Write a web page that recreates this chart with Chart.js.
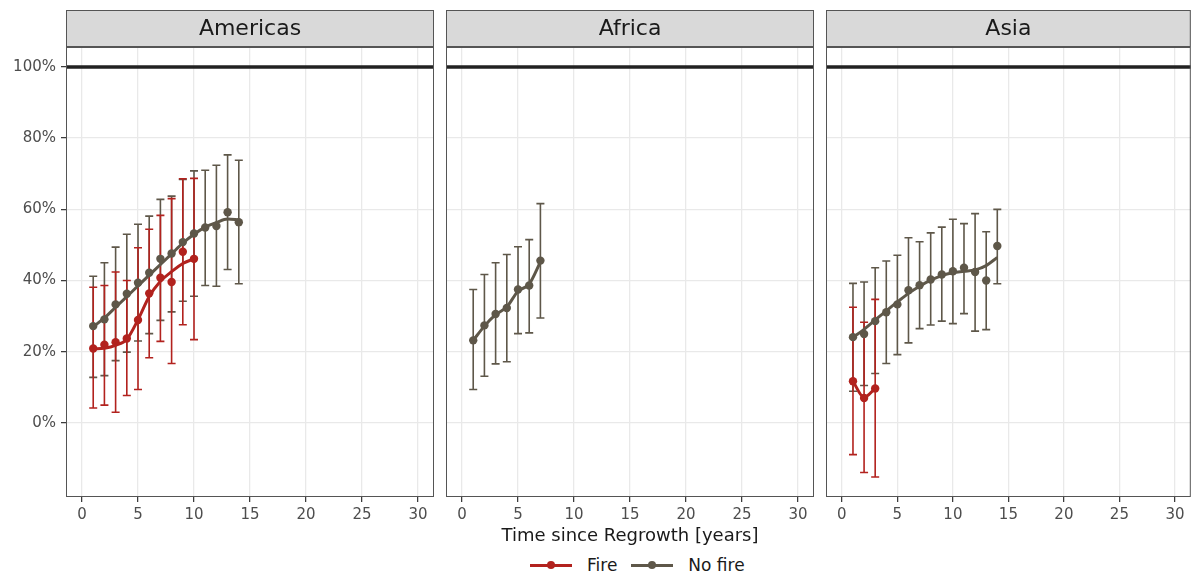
<!DOCTYPE html>
<html>
<head>
<meta charset="utf-8">
<script src="https://cdn.jsdelivr.net/npm/chart.js@4.4.0/dist/chart.umd.min.js"></script>
<style>
  body { margin: 0; background: #fff; width: 1195px; height: 579px; position: relative; overflow: hidden; font-family: "DejaVu Sans", sans-serif; }
  canvas { position: absolute; top: 0; }
  #xtitle { position: absolute; left: 66px; width: 1128px; top: 524px; text-align: center; font-size: 18px; color: #1a1a1a; }
  #legend { position: absolute; left: 530px; top: 554px; height: 22px; display: flex; align-items: center; font-size: 17px; color: #1a1a1a; }
  .key { position: relative; width: 42px; height: 3px; }
  .key span { position: absolute; left: 17px; top: -3px; width: 8px; height: 8px; border-radius: 50%; }
  .lab { margin-left: 15px; margin-right: 14px; }
</style>
</head>
<body>
<canvas id="pAmericas" width="440" height="530" style="left:0px"></canvas>
<canvas id="pAfrica" width="380" height="530" style="left:440px"></canvas>
<canvas id="pAsia" width="375" height="530" style="left:820px"></canvas>
<div id="xtitle">Time since Regrowth [years]</div>
<div id="legend">
  <div class="key" id="keyFire"><span></span></div><div class="lab">Fire</div>
  <div class="key" id="keyNoFire"><span></span></div><div class="lab">No fire</div>
</div>
<script>
// years since regrowth
const years = [1, 2, 3, 4, 5, 6, 7, 8, 9, 10, 11, 12, 13, 14];
const xTicks = [0, 5, 10, 15, 20, 25, 30];
const yTicks = [0, 20, 40, 60, 80, 100];

// Americas
const amNoFireMean = [27.2, 29.1, 33.3, 36.3, 39.4, 42.2, 46.1, 47.6, 50.8, 53.2, 54.9, 55.3, 59.2, 56.4];
const amNoFireLo   = [12.8, 13.3, 17.5, 19.9, 23.0, 25.1, 28.8, 31.2, 34.2, 35.6, 38.6, 38.4, 43.1, 39.1];
const amNoFireHi   = [41.2, 45.0, 49.4, 53.0, 55.8, 58.1, 62.8, 63.7, 68.4, 70.8, 71.0, 72.4, 75.3, 73.8];
const amNoFireFit  = [27.0, 29.5, 32.5, 35.5, 38.5, 41.5, 44.5, 47.5, 50.5, 53.0, 55.0, 56.3, 57.3, 57.0];
const amFireMean = [20.9, 22.0, 22.7, 23.7, 28.9, 36.4, 40.8, 39.6, 48.1, 46.1];
const amFireLo   = [4.2, 5.0, 3.0, 7.7, 9.4, 18.3, 22.9, 16.7, 27.6, 23.4];
const amFireHi   = [38.1, 38.6, 42.4, 40.0, 49.2, 54.4, 58.3, 63.0, 68.6, 68.7];
const amFireFit  = [20.8, 21.0, 21.8, 23.5, 29.0, 35.5, 39.8, 42.5, 44.8, 46.1];

// Africa (no fire only)
const afNoFireMean = [23.2, 27.4, 30.6, 32.3, 37.5, 38.6, 45.6];
const afNoFireLo   = [9.4, 13.1, 16.6, 17.2, 25.1, 25.3, 29.5];
const afNoFireHi   = [37.5, 41.7, 45.0, 47.3, 49.5, 51.5, 61.6];
const afNoFireFit  = [23.2, 27.2, 30.4, 32.6, 37.0, 39.0, 45.2];

// Asia
const asNoFireMean = [24.1, 25.0, 28.6, 31.1, 33.3, 37.3, 38.7, 40.3, 41.7, 42.6, 43.6, 42.4, 40.0, 49.7];
const asNoFireLo   = [8.9, 10.5, 13.9, 16.7, 19.2, 22.5, 26.5, 27.5, 28.6, 27.9, 30.7, 25.8, 26.2, 39.1];
const asNoFireHi   = [39.2, 39.6, 43.6, 45.5, 47.1, 52.0, 50.9, 53.4, 55.0, 57.2, 56.0, 58.8, 53.7, 60.0];
const asNoFireFit  = [24.0, 26.3, 28.9, 31.5, 34.0, 36.4, 38.4, 40.1, 41.4, 42.2, 42.6, 43.0, 44.2, 46.5];
const asFireMean = [11.7, 7.0, 9.7];
const asFireLo   = [-8.9, -13.9, -15.2];
const asFireHi   = [32.5, 28.3, 34.7];
const asFireFit  = [11.7, 7.2, 9.7];

const fireColor = '#b2221e';
const noFireColor = '#5e5749';
const fontFam = '"DejaVu Sans", sans-serif';

document.querySelector('#keyFire').style.background = fireColor;
document.querySelector('#keyFire span').style.background = fireColor;
document.querySelector('#keyNoFire').style.background = noFireColor;
document.querySelector('#keyNoFire span').style.background = noFireColor;

// error bars under the points and lines
const errorBars = {
  id: 'errorBars',
  beforeDatasetsDraw(chart) {
    const ctx = chart.ctx;
    const xs = chart.scales.x, ys = chart.scales.y;
    const withErr = chart.data.datasets.filter(d => d.errLo);
    // gray first, red on top
    withErr.sort((a, b) => b.order - a.order);
    withErr.forEach(d => {
      ctx.save();
      ctx.strokeStyle = d.backgroundColor;
      ctx.lineWidth = 1.6;
      d.data.forEach((p, k) => {
        const px = xs.getPixelForValue(p.x);
        const top = ys.getPixelForValue(d.errHi[k]);
        const bot = ys.getPixelForValue(d.errLo[k]);
        ctx.beginPath();
        ctx.moveTo(px, top); ctx.lineTo(px, bot);
        ctx.moveTo(px - 4, top); ctx.lineTo(px + 4, top);
        ctx.moveTo(px - 4, bot); ctx.lineTo(px + 4, bot);
        ctx.stroke();
      });
      ctx.restore();
    });
  }
};

// hline at 100%, panel border and strip
const panelDeco = {
  id: 'panelDeco',
  beforeDatasetsDraw(chart) {
    const ctx = chart.ctx, a = chart.chartArea;
    const y = chart.scales.y.getPixelForValue(100);
    ctx.save();
    ctx.strokeStyle = '#222';
    ctx.lineWidth = 3.5;
    ctx.beginPath();
    ctx.moveTo(a.left, y); ctx.lineTo(a.right, y);
    ctx.stroke();
    ctx.restore();
  },
  afterDraw(chart, args, opts) {
    const ctx = chart.ctx, a = chart.chartArea;
    ctx.save();
    ctx.strokeStyle = '#555';
    ctx.lineWidth = 1;
    ctx.strokeRect(a.left + 0.5, a.top + 0.5, a.right - a.left - 1, a.bottom - a.top - 1);
    ctx.fillStyle = '#d9d9d9';
    ctx.fillRect(a.left, 10, a.right - a.left, 37);
    ctx.strokeRect(a.left + 0.5, 10.5, a.right - a.left - 1, 36);
    ctx.fillStyle = '#1a1a1a';
    ctx.font = '22px ' + fontFam;
    ctx.textAlign = 'center';
    ctx.textBaseline = 'middle';
    ctx.fillText(opts.title, (a.left + a.right) / 2, 29);
    ctx.restore();
  }
};

function pts(xs, ys) {
  return xs.map((v, i) => ({ x: v, y: ys[i] }));
}

function seriesSets(mean, lo, hi, fit, color, isFire) {
  const x = years.slice(0, mean.length);
  return [
    {
      data: pts(x, fit), showLine: true, borderColor: color, borderWidth: 3,
      pointRadius: 0, cubicInterpolationMode: 'monotone', order: isFire ? 0 : 1
    },
    {
      data: pts(x, mean), showLine: false, backgroundColor: color, borderWidth: 0,
      pointRadius: 4.2, errLo: lo, errHi: hi, order: isFire ? 2 : 3
    }
  ];
}

function drawPanel(id, title, datasets, showY, padRight) {
  const yWidth = showY ? 66 : 6;
  new Chart(document.getElementById(id), {
    type: 'scatter',
    data: { datasets },
    options: {
      responsive: false,
      animation: false,
      layout: { padding: { top: 47, right: padRight, left: 0, bottom: 0 } },
      plugins: { legend: { display: false }, tooltip: { enabled: false }, panelDeco: { title } },
      scales: {
        x: {
          type: 'linear', min: -1.43, max: 31.43,
          afterBuildTicks: s => { s.ticks = xTicks.map(v => ({ value: v })); },
          afterFit: s => { s.height = 33; s.paddingLeft = 0; s.paddingRight = 0; },
          ticks: { color: '#4d4d4d', font: { family: fontFam, size: 15 }, padding: 4, maxRotation: 0 },
          grid: { color: '#e9e9e9', lineWidth: 1.3, tickLength: 5, tickColor: '#333', tickWidth: 1.2 },
          border: { display: false }
        },
        y: {
          min: -20.8, max: 105.6,
          afterBuildTicks: s => { s.ticks = yTicks.map(v => ({ value: v })); },
          afterFit: s => { s.width = yWidth; s.paddingTop = 0; s.paddingBottom = 0; },
          ticks: { display: showY, color: '#4d4d4d', font: { family: fontFam, size: 15 }, padding: 5, callback: v => v + '%' },
          grid: { color: '#e9e9e9', lineWidth: 1.3, tickLength: 5, tickColor: '#333', tickWidth: 1.2, drawTicks: showY },
          border: { display: false }
        }
      }
    },
    plugins: [panelDeco, errorBars]
  });
}

drawPanel('pAmericas', 'Americas', [
  ...seriesSets(amFireMean, amFireLo, amFireHi, amFireFit, fireColor, true),
  ...seriesSets(amNoFireMean, amNoFireLo, amNoFireHi, amNoFireFit, noFireColor, false)
], true, 6);

drawPanel('pAfrica', 'Africa', [
  ...seriesSets(afNoFireMean, afNoFireLo, afNoFireHi, afNoFireFit, noFireColor, false)
], false, 6);

drawPanel('pAsia', 'Asia', [
  ...seriesSets(asFireMean, asFireLo, asFireHi, asFireFit, fireColor, true),
  ...seriesSets(asNoFireMean, asNoFireLo, asNoFireHi, asNoFireFit, noFireColor, false)
], false, 0);
</script>
</body>
</html>
